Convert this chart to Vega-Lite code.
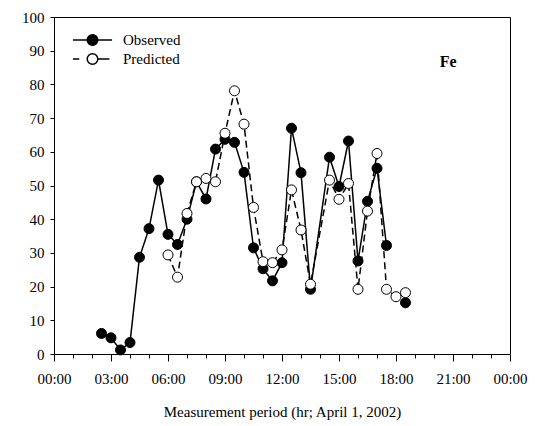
{
  "$schema": "https://vega.github.io/schema/vega-lite/v6.json",
  "width": 456,
  "height": 337,
  "autosize": {"type": "none"},
  "padding": {"left": 54, "top": 17, "right": 40, "bottom": 72},
  "background": "white",
  "config": {
    "font": "Liberation Serif",
    "view": {"stroke": "black", "strokeWidth": 1},
    "axis": {
      "domainColor": "black", "tickColor": "black", "labelColor": "black", "titleColor": "black",
      "grid": false, "labelFont": "Liberation Serif", "titleFont": "Liberation Serif",
      "labelFontSize": 15, "titleFontSize": 15, "titleFontWeight": "normal",
      "domainWidth": 1, "tickWidth": 1
    },
    "legend": {
      "title": null,
      "orient": "none",
      "legendX": 31,
      "legendY": 15.5,
      "padding": 0,
      "symbolSize": 112,
      "symbolStrokeColor": "black",
      "symbolStrokeWidth": 1.5,
      "labelOffset": 23,
      "labelFontSize": 15,
      "labelFont": "Liberation Serif",
      "labelColor": "black",
      "rowPadding": 2
    }
  },
  "encoding": {
    "x": {
      "field": "t", "type": "quantitative",
      "scale": {"domain": [0, 24], "nice": false, "zero": false},
      "axis": {
        "values": [0,1,2,3,4,5,6,7,8,9,10,11,12,13,14,15,16,17,18,19,20,21,22,23,24],
        "labelExpr": "datum.value % 3 === 0 ? ((datum.value % 24) < 10 ? '0' : '') + (datum.value % 24) + ':00' : ''",
        "tickSize": {"condition": {"test": "datum.value % 3 === 0", "value": 7}, "value": 4},
        "labelPadding": 10,
        "labelOverlap": false,
        "labelFlush": false,
        "title": "Measurement period (hr; April 1, 2002)",
        "titlePadding": 18
      }
    },
    "y": {
      "field": "v", "type": "quantitative",
      "scale": {"domain": [0, 100], "nice": false},
      "axis": {
        "values": [0,10,20,30,40,50,60,70,80,90,100],
        "tickSize": 4,
        "labelPadding": 6,
        "title": null
      }
    }
  },
  "layer": [
    {
      "data": {"values": [
        {"t": 2.5, "series": "Observed", "v": 6.1},
        {"t": 3.0, "series": "Observed", "v": 4.8},
        {"t": 3.5, "series": "Observed", "v": 1.2},
        {"t": 4.0, "series": "Observed", "v": 3.4},
        {"t": 4.5, "series": "Observed", "v": 28.7},
        {"t": 5.0, "series": "Observed", "v": 37.2},
        {"t": 5.5, "series": "Observed", "v": 51.6},
        {"t": 6.0, "series": "Observed", "v": 35.5},
        {"t": 6.5, "series": "Observed", "v": 32.5},
        {"t": 7.0, "series": "Observed", "v": 40.0},
        {"t": 7.5, "series": "Observed", "v": 51.1},
        {"t": 8.0, "series": "Observed", "v": 46.0},
        {"t": 8.5, "series": "Observed", "v": 60.8},
        {"t": 9.0, "series": "Observed", "v": 63.7},
        {"t": 9.5, "series": "Observed", "v": 62.8},
        {"t": 10.0, "series": "Observed", "v": 53.9},
        {"t": 10.5, "series": "Observed", "v": 31.5},
        {"t": 11.0, "series": "Observed", "v": 25.3},
        {"t": 11.5, "series": "Observed", "v": 21.7},
        {"t": 12.0, "series": "Observed", "v": 27.1},
        {"t": 12.5, "series": "Observed", "v": 67.0},
        {"t": 13.0, "series": "Observed", "v": 53.8},
        {"t": 13.5, "series": "Observed", "v": 19.2},
        {"t": 14.5, "series": "Observed", "v": 58.4},
        {"t": 15.0, "series": "Observed", "v": 49.7},
        {"t": 15.5, "series": "Observed", "v": 63.2},
        {"t": 16.0, "series": "Observed", "v": 27.6},
        {"t": 16.5, "series": "Observed", "v": 45.3},
        {"t": 17.0, "series": "Observed", "v": 55.1},
        {"t": 17.5, "series": "Observed", "v": 32.2},
        {"t": 18.0, "series": "Observed", "v": null},
        {"t": 18.5, "series": "Observed", "v": 15.2},
        {"t": 6.0, "series": "Predicted", "v": 29.4},
        {"t": 6.5, "series": "Predicted", "v": 22.8},
        {"t": 7.0, "series": "Predicted", "v": 41.7},
        {"t": 7.5, "series": "Predicted", "v": 51.1},
        {"t": 8.0, "series": "Predicted", "v": 52.1},
        {"t": 8.5, "series": "Predicted", "v": 51.1},
        {"t": 9.0, "series": "Predicted", "v": 65.5},
        {"t": 9.5, "series": "Predicted", "v": 78.1},
        {"t": 10.0, "series": "Predicted", "v": 68.2},
        {"t": 10.5, "series": "Predicted", "v": 43.5},
        {"t": 11.0, "series": "Predicted", "v": 27.4},
        {"t": 11.5, "series": "Predicted", "v": 27.1},
        {"t": 12.0, "series": "Predicted", "v": 30.9},
        {"t": 12.5, "series": "Predicted", "v": 48.7},
        {"t": 13.0, "series": "Predicted", "v": 36.8},
        {"t": 13.5, "series": "Predicted", "v": 20.7},
        {"t": 14.5, "series": "Predicted", "v": 51.6},
        {"t": 15.0, "series": "Predicted", "v": 45.9},
        {"t": 15.5, "series": "Predicted", "v": 50.6},
        {"t": 16.0, "series": "Predicted", "v": 19.2},
        {"t": 16.5, "series": "Predicted", "v": 42.4},
        {"t": 17.0, "series": "Predicted", "v": 59.5},
        {"t": 17.5, "series": "Predicted", "v": 19.2},
        {"t": 18.0, "series": "Predicted", "v": 17.0},
        {"t": 18.5, "series": "Predicted", "v": 18.2}
      ]},
      "layer": [
        {
          "transform": [{"filter": "datum.series === 'Observed'"}],
          "mark": {"type": "line", "stroke": "black", "strokeWidth": 1.5, "invalid": "break-paths-show-domains"},
          "encoding": {}
        },
        {
          "transform": [{"filter": "datum.series === 'Predicted'"}],
          "mark": {"type": "line", "stroke": "black", "strokeWidth": 1.5, "strokeDash": [7, 4]},
          "encoding": {}
        },
        {
          "mark": {"type": "point", "filled": true, "size": 100, "stroke": "black", "strokeWidth": 1, "opacity": 1},
          "encoding": {
            "fill": {
              "field": "series", "type": "nominal",
              "scale": {"domain": ["Observed", "Predicted"], "range": ["black", "white"]},
              "legend": {"title": null}
            }
          }
        },
        {
          "transform": [{"filter": "false"}],
          "mark": {"type": "point", "filled": true, "stroke": "black", "strokeWidth": 1.5, "opacity": 1},
          "encoding": {
            "shape": {
              "field": "series", "type": "nominal",
              "scale": {"domain": ["Observed", "Predicted"], "range": [
                "M-3.7,0L-1,0M1,0L3.7,0M-1,0A1,1,0,1,1,1,0A1,1,0,1,1,-1,0Z",
                "M-3.7,0L-2.5,0M1,0L3.2,0M-1,0A1,1,0,1,1,1,0A1,1,0,1,1,-1,0Z"
              ]},
              "legend": {"title": null}
            }
          }
        }
      ]
    },
    {
      "data": {"values": [{"label": "Fe", "t": 20.75, "v": 86.7}]},
      "mark": {"type": "text", "fontWeight": "bold", "fontSize": 16, "font": "Liberation Serif", "color": "black", "align": "center", "baseline": "middle"},
      "encoding": {"text": {"field": "label", "type": "nominal"}}
    }
  ]
}
